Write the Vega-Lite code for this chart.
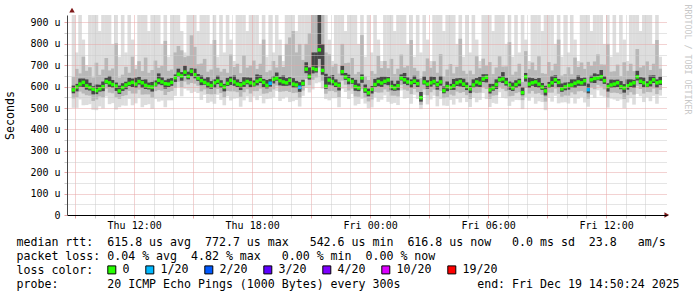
{
"$schema": "https://vega.github.io/schema/vega-lite/v6.json",
"width": 600, "height": 200,
"autosize": {"type": "none"},
"padding": {"left": 67, "top": 15, "right": 30, "bottom": 82},
"background": "white",
"config": {"view": {"stroke": null}, "font": "DejaVu Sans Mono"},
"datasets": {
"rtt": [
{"x":535,"m":585,"lo":501,"a":545,"b":569,"c":605,"d":645,"hi":935,"l":"0"},
{"x":545,"m":598,"lo":501,"a":550,"b":578,"c":613,"d":683,"hi":760,"l":"0"},
{"x":555,"m":612,"lo":540,"a":577,"b":600,"c":638,"d":662,"hi":935,"l":"0"},
{"x":565,"m":620,"lo":513,"a":568,"b":598,"c":638,"d":740,"hi":820,"l":"0"},
{"x":575,"m":604,"lo":514,"a":560,"b":586,"c":634,"d":674,"hi":700,"l":"0"},
{"x":585,"m":596,"lo":518,"a":558,"b":582,"c":618,"d":691,"hi":935,"l":"0"},
{"x":595,"m":588,"lo":492,"a":533,"b":564,"c":602,"d":643,"hi":935,"l":"0"},
{"x":605,"m":582,"lo":490,"a":540,"b":565,"c":610,"d":712,"hi":935,"l":"0"},
{"x":615,"m":590,"lo":508,"a":554,"b":577,"c":609,"d":655,"hi":860,"l":"0"},
{"x":625,"m":600,"lo":498,"a":550,"b":579,"c":624,"d":680,"hi":935,"l":"0"},
{"x":635,"m":624,"lo":554,"a":591,"b":613,"c":641,"d":734,"hi":935,"l":"0"},
{"x":645,"m":618,"lo":518,"a":572,"b":599,"c":650,"d":676,"hi":935,"l":"0"},
{"x":655,"m":610,"lo":523,"a":569,"b":595,"c":631,"d":685,"hi":800,"l":"0"},
{"x":665,"m":603,"lo":493,"a":550,"b":580,"c":619,"d":803,"hi":935,"l":"0"},
{"x":675,"m":580,"lo":504,"a":543,"b":566,"c":605,"d":642,"hi":740,"l":"0"},
{"x":685,"m":596,"lo":512,"a":556,"b":580,"c":616,"d":656,"hi":935,"l":"0"},
{"x":695,"m":608,"lo":511,"a":560,"b":588,"c":623,"d":693,"hi":760,"l":"0"},
{"x":705,"m":615,"lo":543,"a":580,"b":603,"c":641,"d":665,"hi":935,"l":"0"},
{"x":715,"m":620,"lo":513,"a":568,"b":598,"c":638,"d":740,"hi":820,"l":"0"},
{"x":725,"m":612,"lo":522,"a":568,"b":594,"c":642,"d":682,"hi":700,"l":"0"},
{"x":735,"m":624,"lo":546,"a":586,"b":610,"c":646,"d":719,"hi":935,"l":"0"},
{"x":745,"m":618,"lo":504,"a":563,"b":594,"c":632,"d":673,"hi":935,"l":"0"},
{"x":755,"m":606,"lo":514,"a":564,"b":589,"c":634,"d":736,"hi":935,"l":"0"},
{"x":765,"m":600,"lo":518,"a":564,"b":587,"c":619,"d":665,"hi":860,"l":"0"},
{"x":775,"m":598,"lo":496,"a":548,"b":577,"c":622,"d":678,"hi":935,"l":"0"},
{"x":785,"m":612,"lo":542,"a":579,"b":601,"c":629,"d":722,"hi":935,"l":"0"},
{"x":795,"m":630,"lo":530,"a":584,"b":611,"c":662,"d":688,"hi":935,"l":"0"},
{"x":805,"m":622,"lo":535,"a":581,"b":607,"c":643,"d":697,"hi":800,"l":"0"},
{"x":815,"m":614,"lo":504,"a":561,"b":591,"c":630,"d":814,"hi":935,"l":"0"},
{"x":825,"m":612,"lo":536,"a":575,"b":598,"c":637,"d":674,"hi":740,"l":"0"},
{"x":835,"m":620,"lo":536,"a":580,"b":604,"c":640,"d":680,"hi":935,"l":"0"},
{"x":845,"m":642,"lo":557,"a":594,"b":622,"c":657,"d":760,"hi":935,"l":"0"},
{"x":855,"m":658,"lo":598,"a":623,"b":646,"c":684,"d":790,"hi":935,"l":"0"},
{"x":865,"m":650,"lo":555,"a":598,"b":628,"c":668,"d":770,"hi":860,"l":"0"},
{"x":875,"m":668,"lo":590,"a":624,"b":650,"c":698,"d":738,"hi":760,"l":"0"},
{"x":885,"m":648,"lo":582,"a":610,"b":634,"c":670,"d":743,"hi":935,"l":"0"},
{"x":895,"m":672,"lo":570,"a":617,"b":648,"c":686,"d":840,"hi":935,"l":"0"},
{"x":905,"m":656,"lo":576,"a":614,"b":639,"c":684,"d":786,"hi":935,"l":"0"},
{"x":915,"m":640,"lo":570,"a":604,"b":627,"c":659,"d":705,"hi":860,"l":"0"},
{"x":925,"m":628,"lo":538,"a":578,"b":607,"c":652,"d":708,"hi":935,"l":"0"},
{"x":935,"m":620,"lo":562,"a":587,"b":609,"c":637,"d":730,"hi":935,"l":"0"},
{"x":945,"m":612,"lo":524,"a":566,"b":593,"c":644,"d":670,"hi":935,"l":"0"},
{"x":955,"m":605,"lo":530,"a":564,"b":590,"c":626,"d":680,"hi":800,"l":"0"},
{"x":965,"m":618,"lo":520,"a":565,"b":595,"c":634,"d":818,"hi":935,"l":"0"},
{"x":975,"m":626,"lo":562,"a":589,"b":612,"c":651,"d":688,"hi":740,"l":"0"},
{"x":985,"m":610,"lo":538,"a":570,"b":594,"c":630,"d":670,"hi":935,"l":"0"},
{"x":995,"m":598,"lo":513,"a":550,"b":578,"c":613,"d":683,"hi":760,"l":"0"},
{"x":1005,"m":615,"lo":555,"a":580,"b":603,"c":641,"d":665,"hi":935,"l":"0"},
{"x":1015,"m":630,"lo":535,"a":578,"b":608,"c":648,"d":750,"hi":820,"l":"0"},
{"x":1025,"m":622,"lo":544,"a":578,"b":604,"c":652,"d":692,"hi":720,"l":"0"},
{"x":1035,"m":612,"lo":546,"a":574,"b":598,"c":634,"d":707,"hi":935,"l":"0"},
{"x":1045,"m":608,"lo":506,"a":553,"b":584,"c":622,"d":663,"hi":935,"l":"0"},
{"x":1055,"m":616,"lo":536,"a":574,"b":599,"c":644,"d":746,"hi":935,"l":"0"},
{"x":1065,"m":624,"lo":554,"a":588,"b":611,"c":643,"d":689,"hi":860,"l":"0"},
{"x":1075,"m":618,"lo":528,"a":568,"b":597,"c":642,"d":698,"hi":935,"l":"0"},
{"x":1085,"m":612,"lo":554,"a":579,"b":601,"c":629,"d":722,"hi":935,"l":"0"},
{"x":1095,"m":625,"lo":537,"a":579,"b":606,"c":657,"d":683,"hi":935,"l":"0"},
{"x":1105,"m":632,"lo":557,"a":591,"b":617,"c":653,"d":707,"hi":800,"l":"0"},
{"x":1115,"m":620,"lo":522,"a":567,"b":597,"c":636,"d":820,"hi":935,"l":"0"},
{"x":1125,"m":606,"lo":542,"a":569,"b":592,"c":631,"d":668,"hi":740,"l":"0"},
{"x":1135,"m":616,"lo":544,"a":576,"b":600,"c":636,"d":676,"hi":935,"l":"1/20"},
{"x":1145,"m":635,"lo":550,"a":587,"b":615,"c":650,"d":720,"hi":760,"l":"0"},
{"x":1155,"m":640,"lo":580,"a":605,"b":628,"c":666,"d":690,"hi":935,"l":"0"},
{"x":1165,"m":628,"lo":533,"a":576,"b":606,"c":646,"d":748,"hi":820,"l":"0"},
{"x":1175,"m":622,"lo":544,"a":578,"b":604,"c":652,"d":692,"hi":720,"l":"0"},
{"x":1185,"m":618,"lo":552,"a":580,"b":604,"c":640,"d":800,"hi":935,"l":"0"},
{"x":1195,"m":630,"lo":528,"a":575,"b":606,"c":644,"d":830,"hi":935,"l":"0"},
{"x":1205,"m":612,"lo":532,"a":570,"b":595,"c":640,"d":860,"hi":935,"l":"0"},
{"x":1215,"m":608,"lo":538,"a":572,"b":595,"c":627,"d":760,"hi":860,"l":"0"},
{"x":1225,"m":597,"lo":507,"a":547,"b":576,"c":621,"d":800,"hi":935,"l":"1/20"},
{"x":1235,"m":615,"lo":557,"a":582,"b":604,"c":632,"d":725,"hi":935,"l":"0"},
{"x":1245,"m":682,"lo":594,"a":636,"b":663,"c":714,"d":800,"hi":935,"l":"0"},
{"x":1255,"m":648,"lo":573,"a":607,"b":633,"c":690,"d":850,"hi":935,"l":"0"},
{"x":1265,"m":685,"lo":587,"a":632,"b":662,"c":760,"d":935,"hi":935,"l":"0"},
{"x":1275,"m":680,"lo":616,"a":643,"b":666,"c":760,"d":935,"hi":935,"l":"0"},
{"x":1285,"m":772,"lo":620,"a":690,"b":730,"c":935,"d":935,"hi":935,"l":"0"},
{"x":1295,"m":676,"lo":591,"a":628,"b":656,"c":800,"d":935,"hi":935,"l":"0"},
{"x":1305,"m":602,"lo":542,"a":567,"b":590,"c":660,"d":760,"hi":935,"l":"0"},
{"x":1315,"m":631,"lo":536,"a":579,"b":609,"c":649,"d":751,"hi":820,"l":"0"},
{"x":1325,"m":624,"lo":546,"a":580,"b":606,"c":654,"d":694,"hi":720,"l":"0"},
{"x":1335,"m":612,"lo":546,"a":574,"b":598,"c":634,"d":707,"hi":935,"l":"0"},
{"x":1345,"m":606,"lo":504,"a":551,"b":582,"c":620,"d":661,"hi":935,"l":"0"},
{"x":1355,"m":670,"lo":590,"a":628,"b":653,"c":698,"d":800,"hi":935,"l":"0"},
{"x":1365,"m":645,"lo":575,"a":609,"b":632,"c":664,"d":710,"hi":860,"l":"0"},
{"x":1375,"m":632,"lo":542,"a":582,"b":611,"c":656,"d":712,"hi":935,"l":"0"},
{"x":1385,"m":624,"lo":566,"a":591,"b":613,"c":641,"d":734,"hi":935,"l":"0"},
{"x":1395,"m":600,"lo":512,"a":554,"b":581,"c":632,"d":658,"hi":935,"l":"0"},
{"x":1405,"m":594,"lo":519,"a":553,"b":579,"c":615,"d":669,"hi":800,"l":"0"},
{"x":1415,"m":641,"lo":543,"a":588,"b":618,"c":657,"d":841,"hi":935,"l":"0"},
{"x":1425,"m":585,"lo":521,"a":548,"b":571,"c":610,"d":647,"hi":740,"l":"0"},
{"x":1435,"m":571,"lo":499,"a":531,"b":555,"c":591,"d":631,"hi":935,"l":"0"},
{"x":1445,"m":588,"lo":503,"a":540,"b":568,"c":603,"d":673,"hi":760,"l":"0"},
{"x":1455,"m":610,"lo":550,"a":575,"b":598,"c":636,"d":660,"hi":935,"l":"0"},
{"x":1465,"m":624,"lo":529,"a":572,"b":602,"c":642,"d":744,"hi":820,"l":"0"},
{"x":1475,"m":617,"lo":539,"a":573,"b":599,"c":647,"d":687,"hi":720,"l":"0"},
{"x":1485,"m":625,"lo":559,"a":587,"b":611,"c":647,"d":720,"hi":935,"l":"0"},
{"x":1495,"m":631,"lo":529,"a":576,"b":607,"c":645,"d":686,"hi":935,"l":"0"},
{"x":1505,"m":600,"lo":520,"a":558,"b":583,"c":628,"d":730,"hi":935,"l":"0"},
{"x":1515,"m":594,"lo":524,"a":558,"b":581,"c":613,"d":659,"hi":860,"l":"0"},
{"x":1525,"m":604,"lo":514,"a":554,"b":583,"c":628,"d":684,"hi":935,"l":"0"},
{"x":1535,"m":640,"lo":582,"a":607,"b":629,"c":657,"d":750,"hi":935,"l":"0"},
{"x":1545,"m":632,"lo":544,"a":586,"b":613,"c":664,"d":690,"hi":935,"l":"0"},
{"x":1555,"m":622,"lo":547,"a":581,"b":607,"c":643,"d":697,"hi":800,"l":"0"},
{"x":1565,"m":618,"lo":520,"a":565,"b":595,"c":634,"d":818,"hi":935,"l":"0"},
{"x":1575,"m":626,"lo":562,"a":589,"b":612,"c":651,"d":688,"hi":740,"l":"0"},
{"x":1585,"m":614,"lo":542,"a":574,"b":598,"c":634,"d":674,"hi":935,"l":"0"},
{"x":1595,"m":548,"lo":495,"a":515,"b":530,"c":575,"d":640,"hi":760,"l":"0"},
{"x":1605,"m":622,"lo":562,"a":587,"b":610,"c":648,"d":672,"hi":935,"l":"0"},
{"x":1615,"m":612,"lo":517,"a":560,"b":590,"c":630,"d":732,"hi":820,"l":"0"},
{"x":1625,"m":618,"lo":540,"a":574,"b":600,"c":648,"d":688,"hi":720,"l":"0"},
{"x":1635,"m":624,"lo":558,"a":586,"b":610,"c":646,"d":719,"hi":935,"l":"0"},
{"x":1645,"m":610,"lo":508,"a":555,"b":586,"c":624,"d":665,"hi":935,"l":"0"},
{"x":1655,"m":622,"lo":542,"a":580,"b":605,"c":650,"d":752,"hi":935,"l":"0"},
{"x":1665,"m":582,"lo":512,"a":546,"b":569,"c":601,"d":647,"hi":860,"l":"0"},
{"x":1675,"m":600,"lo":510,"a":550,"b":579,"c":624,"d":680,"hi":935,"l":"0"},
{"x":1685,"m":596,"lo":538,"a":563,"b":585,"c":613,"d":706,"hi":935,"l":"0"},
{"x":1695,"m":604,"lo":516,"a":558,"b":585,"c":636,"d":662,"hi":935,"l":"0"},
{"x":1705,"m":618,"lo":543,"a":577,"b":603,"c":639,"d":693,"hi":800,"l":"0"},
{"x":1715,"m":624,"lo":526,"a":571,"b":601,"c":640,"d":824,"hi":935,"l":"0"},
{"x":1725,"m":612,"lo":548,"a":575,"b":598,"c":637,"d":674,"hi":740,"l":"0"},
{"x":1735,"m":600,"lo":528,"a":560,"b":584,"c":620,"d":660,"hi":935,"l":"0"},
{"x":1745,"m":590,"lo":505,"a":542,"b":570,"c":605,"d":675,"hi":760,"l":"0"},
{"x":1755,"m":608,"lo":548,"a":573,"b":596,"c":634,"d":658,"hi":935,"l":"0"},
{"x":1765,"m":622,"lo":527,"a":570,"b":600,"c":640,"d":742,"hi":820,"l":"0"},
{"x":1775,"m":616,"lo":538,"a":572,"b":598,"c":646,"d":686,"hi":720,"l":"0"},
{"x":1785,"m":636,"lo":570,"a":598,"b":622,"c":658,"d":731,"hi":935,"l":"0"},
{"x":1795,"m":644,"lo":542,"a":589,"b":620,"c":658,"d":699,"hi":935,"l":"0"},
{"x":1805,"m":585,"lo":505,"a":543,"b":568,"c":613,"d":715,"hi":935,"l":"0"},
{"x":1815,"m":594,"lo":524,"a":558,"b":581,"c":613,"d":659,"hi":860,"l":"0"},
{"x":1825,"m":610,"lo":520,"a":560,"b":589,"c":634,"d":690,"hi":935,"l":"0"},
{"x":1835,"m":632,"lo":574,"a":599,"b":621,"c":649,"d":742,"hi":935,"l":"0"},
{"x":1845,"m":636,"lo":548,"a":590,"b":617,"c":668,"d":694,"hi":935,"l":"0"},
{"x":1855,"m":620,"lo":545,"a":579,"b":605,"c":641,"d":695,"hi":800,"l":"0"},
{"x":1865,"m":608,"lo":510,"a":555,"b":585,"c":624,"d":808,"hi":935,"l":"0"},
{"x":1875,"m":594,"lo":530,"a":557,"b":580,"c":619,"d":656,"hi":740,"l":"0"},
{"x":1885,"m":610,"lo":538,"a":570,"b":594,"c":630,"d":670,"hi":935,"l":"0"},
{"x":1895,"m":622,"lo":537,"a":574,"b":602,"c":637,"d":707,"hi":760,"l":"0"},
{"x":1905,"m":572,"lo":495,"a":537,"b":560,"c":598,"d":622,"hi":935,"l":"0"},
{"x":1915,"m":646,"lo":551,"a":594,"b":624,"c":664,"d":766,"hi":820,"l":"0"},
{"x":1925,"m":612,"lo":534,"a":568,"b":594,"c":642,"d":682,"hi":720,"l":"0"},
{"x":1935,"m":618,"lo":552,"a":580,"b":604,"c":640,"d":713,"hi":935,"l":"0"},
{"x":1945,"m":622,"lo":520,"a":567,"b":598,"c":636,"d":677,"hi":935,"l":"0"},
{"x":1955,"m":612,"lo":532,"a":570,"b":595,"c":640,"d":742,"hi":935,"l":"0"},
{"x":1965,"m":598,"lo":528,"a":562,"b":585,"c":617,"d":663,"hi":860,"l":"0"},
{"x":1975,"m":580,"lo":490,"a":530,"b":559,"c":604,"d":660,"hi":935,"l":"0"},
{"x":1985,"m":605,"lo":547,"a":572,"b":594,"c":622,"d":715,"hi":935,"l":"0"},
{"x":1995,"m":618,"lo":530,"a":572,"b":599,"c":650,"d":676,"hi":935,"l":"0"},
{"x":2005,"m":632,"lo":557,"a":591,"b":617,"c":653,"d":707,"hi":800,"l":"0"},
{"x":2015,"m":620,"lo":522,"a":567,"b":597,"c":636,"d":820,"hi":935,"l":"0"},
{"x":2025,"m":590,"lo":526,"a":553,"b":576,"c":615,"d":652,"hi":740,"l":"0"},
{"x":2035,"m":599,"lo":527,"a":559,"b":583,"c":619,"d":659,"hi":935,"l":"0"},
{"x":2045,"m":606,"lo":521,"a":558,"b":586,"c":621,"d":691,"hi":760,"l":"0"},
{"x":2055,"m":608,"lo":548,"a":573,"b":596,"c":634,"d":658,"hi":935,"l":"0"},
{"x":2065,"m":616,"lo":521,"a":564,"b":594,"c":634,"d":736,"hi":820,"l":"0"},
{"x":2075,"m":622,"lo":544,"a":578,"b":604,"c":652,"d":692,"hi":720,"l":"0"},
{"x":2085,"m":618,"lo":552,"a":580,"b":604,"c":640,"d":713,"hi":935,"l":"0"},
{"x":2095,"m":628,"lo":526,"a":573,"b":604,"c":642,"d":683,"hi":935,"l":"0"},
{"x":2105,"m":586,"lo":506,"a":544,"b":569,"c":614,"d":716,"hi":935,"l":"1/20"},
{"x":2115,"m":632,"lo":562,"a":596,"b":619,"c":651,"d":697,"hi":860,"l":"0"},
{"x":2125,"m":638,"lo":548,"a":588,"b":617,"c":662,"d":718,"hi":935,"l":"0"},
{"x":2135,"m":641,"lo":583,"a":608,"b":630,"c":658,"d":751,"hi":935,"l":"0"},
{"x":2145,"m":646,"lo":558,"a":600,"b":627,"c":678,"d":704,"hi":935,"l":"0"},
{"x":2155,"m":628,"lo":553,"a":587,"b":613,"c":649,"d":703,"hi":800,"l":"0"},
{"x":2165,"m":600,"lo":502,"a":547,"b":577,"c":616,"d":800,"hi":935,"l":"0"},
{"x":2175,"m":608,"lo":544,"a":571,"b":594,"c":633,"d":670,"hi":740,"l":"0"},
{"x":2185,"m":612,"lo":540,"a":572,"b":596,"c":632,"d":672,"hi":935,"l":"0"},
{"x":2195,"m":618,"lo":533,"a":570,"b":598,"c":633,"d":703,"hi":760,"l":"0"},
{"x":2205,"m":600,"lo":540,"a":565,"b":588,"c":626,"d":650,"hi":935,"l":"0"},
{"x":2215,"m":594,"lo":499,"a":542,"b":572,"c":612,"d":714,"hi":820,"l":"0"},
{"x":2225,"m":604,"lo":526,"a":560,"b":586,"c":634,"d":674,"hi":720,"l":"0"},
{"x":2235,"m":612,"lo":546,"a":574,"b":598,"c":634,"d":707,"hi":935,"l":"0"},
{"x":2245,"m":618,"lo":516,"a":563,"b":594,"c":632,"d":673,"hi":935,"l":"0"},
{"x":2255,"m":646,"lo":566,"a":604,"b":629,"c":674,"d":776,"hi":935,"l":"0"},
{"x":2265,"m":625,"lo":555,"a":589,"b":612,"c":644,"d":690,"hi":860,"l":"0"},
{"x":2275,"m":618,"lo":528,"a":568,"b":597,"c":642,"d":698,"hi":935,"l":"0"},
{"x":2285,"m":608,"lo":550,"a":575,"b":597,"c":625,"d":718,"hi":935,"l":"0"},
{"x":2295,"m":620,"lo":532,"a":574,"b":601,"c":652,"d":678,"hi":935,"l":"0"},
{"x":2305,"m":632,"lo":557,"a":591,"b":617,"c":653,"d":707,"hi":800,"l":"0"},
{"x":2315,"m":618,"lo":520,"a":565,"b":595,"c":634,"d":818,"hi":935,"l":"0"},
{"x":2325,"m":622,"lo":558,"a":585,"b":608,"c":647,"d":684,"hi":740,"l":"0"}
],
"arrows": [
{"x":2345,"y":0,"s":"triangle-right"},
{"x":530.4,"y":958,"s":"triangle-up"}
]
},
"encoding": {
"x": {"field": "x", "type": "quantitative",
 "scale": {"domain": [530.4, 2330.4], "nice": false, "zero": false},
 "axis": {
  "values": [540,600,660,720,780,840,900,960,1020,1080,1140,1200,1260,1320,1380,1440,1500,1560,1620,1680,1740,1800,1860,1920,1980,2040,2100,2160,2220,2280],
  "labelExpr": "datum.value % 360 == 0 ? ((datum.value < 1440 ? 'Thu ' : 'Fri ') + (floor((datum.value % 1440) / 60) < 10 ? '0' : '') + floor((datum.value % 1440) / 60) + ':00') : ''",
  "labelFont": "DejaVu Sans Mono", "labelFontSize": 10, "labelColor": "#000000", "labelPadding": 2,
  "labelOverlap": false, "labelFlush": false, "labelBound": false,
  "tickSize": 3,
  "tickColor": {"condition": {"test": "datum.value % 180 == 0", "value": "#e6a4a4"}, "value": "#cacaca"},
  "grid": true,
  "gridColor": {"condition": {"test": "datum.value % 180 == 0", "value": "#e6a4a4"}, "value": "#cacaca"},
  "gridDash": [1, 1], "gridWidth": 1,
  "domainColor": "#000000", "domainWidth": 1,
  "zindex": 1,
  "title": [
   "median rtt:\u00a0\u00a0615.8 us avg\u00a0\u00a0772.7 us max\u00a0\u00a0\u00a0542.6 us min\u00a0\u00a0616.8 us now\u00a0\u00a0\u00a00.0 ms sd\u00a0\u00a023.8\u00a0\u00a0\u00a0am/s",
   "packet loss: 0.04 % avg\u00a0\u00a04.82 % max\u00a0\u00a0\u00a00.00 % min\u00a0\u00a00.00 % now",
   "loss color:",
   "probe:\u00a0\u00a0\u00a0\u00a0\u00a0\u00a0\u00a020 ICMP Echo Pings (1000 Bytes) every 300s\u00a0\u00a0\u00a0\u00a0\u00a0\u00a0\u00a0\u00a0\u00a0\u00a0\u00a0end: Fri Dec 19 14:50:24 2025"
  ],
  "titleFont": "DejaVu Sans Mono", "titleFontSize": 11.6, "titleFontWeight": "normal", "titleColor": "#000000",
  "titleAnchor": "start", "titleAlign": "left", "titleBaseline": "alphabetic",
  "titleX": -51, "titleY": 30, "titleLineHeight": 14
 }}
},
"layer": [
{
"data": {"name": "rtt"},
"mark": {"type": "bar", "width": 3.6, "color": "#dddddd"},
"encoding": {
"y": {"field": "lo", "type": "quantitative",
 "scale": {"domain": [0, 935], "nice": false, "zero": true},
 "axis": {
  "values": [0,50,100,150,200,250,300,350,400,450,500,550,600,650,700,750,800,850,900],
  "labelExpr": "datum.value % 100 == 0 ? (datum.value == 0 ? '0' : datum.value + ' u') : ''",
  "labelFont": "DejaVu Sans Mono", "labelFontSize": 10, "labelColor": "#000000", "labelPadding": 4,
  "labelOverlap": false, "labelFlush": false, "labelBound": false,
  "tickSize": 3,
  "tickColor": {"condition": {"test": "datum.value % 100 == 0", "value": "#e6a4a4"}, "value": "#cacaca"},
  "grid": true,
  "gridColor": {"condition": {"test": "datum.value % 100 == 0", "value": "#e6a4a4"}, "value": "#cacaca"},
  "gridDash": [1, 1], "gridWidth": 1,
  "domainColor": "#444444", "domainWidth": 1,
  "zindex": 1,
  "title": "Seconds",
  "titleFont": "DejaVu Sans Mono", "titleFontSize": 11.6, "titleFontWeight": "normal", "titleColor": "#000000",
  "titleX": -57, "titleY": 100, "titleAngle": 270, "titleAlign": "center", "titleBaseline": "middle"
 }},
"y2": {"field": "hi"}
}
},
{
"data": {"name": "rtt"},
"mark": {"type": "bar", "width": 3.6, "color": "#b8b8b8"},
"encoding": {
"y": {"field": "a", "type": "quantitative", "axis": null},
"y2": {"field": "d"}
}
},
{
"data": {"name": "rtt"},
"mark": {"type": "bar", "width": 3.6, "color": "#474747"},
"encoding": {
"y": {"field": "b", "type": "quantitative", "axis": null},
"y2": {"field": "c"}
}
},
{
"data": {"name": "rtt"},
"mark": {"type": "point", "shape": "square", "filled": true, "size": 12, "opacity": 1},
"encoding": {
"y": {"field": "m", "type": "quantitative",
 "axis": {"orient": "right", "title": "RRDTOOL / TOBI OETIKER", "titleAngle": 90,
  "titleX": 19, "titleY": 44, "titleAlign": "center", "titleBaseline": "middle",
  "titleFont": "DejaVu Sans Mono", "titleFontSize": 8.3, "titleFontWeight": "normal", "titleColor": "#c8c8c8",
  "labels": false, "ticks": false, "domain": false, "grid": false}},
"color": {"field": "l", "type": "nominal",
 "scale": {"domain": ["0","1/20","2/20","3/20","4/20","10/20","19/20"],
  "range": ["#26ff00","#00b8ff","#0059ff","#5e00ff","#7e00ff","#dd00ff","#ff0000"]},
 "legend": {"title": null, "orient": "none", "legendX": 39, "legendY": 249, "direction": "horizontal",
  "symbolType": "square", "symbolSize": 64, "symbolStrokeColor": "#000000", "symbolStrokeWidth": 1, "symbolOpacity": 1,
  "labelFont": "DejaVu Sans Mono", "labelFontSize": 11.6, "labelColor": "#000000", "labelOffset": 5,
  "labelBaseline": "middle",
  "columnPadding": 13, "padding": 0}}
}
},
{
"data": {"name": "arrows"},
"mark": {"type": "point", "filled": true, "size": 30, "color": "#7f1a1a", "opacity": 1, "clip": false},
"encoding": {
"y": {"field": "y", "type": "quantitative", "axis": null},
"shape": {"field": "s", "type": "nominal", "scale": null, "legend": null}
}
}
],
"resolve": {"axis": {"y": "independent"}}
}
